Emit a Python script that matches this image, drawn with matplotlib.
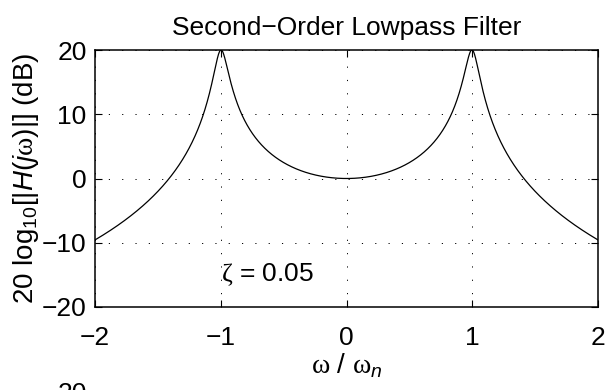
import numpy as np
import matplotlib
matplotlib.use("Agg")
import matplotlib.pyplot as plt

# Filter parameters and axis setup
zeta = 0.05
omega_range = [-2.0, 2.0]
db_range = [-20.0, 20.0]
xticks = [-2, -1, 0, 1, 2]
yticks = [-20, -10, 0, 10, 20]
next_panel_top_tick = "20"

plt.rcParams["font.family"] = ["Liberation Sans", "DejaVu Sans"]
plt.rcParams["mathtext.fontset"] = "custom"
plt.rcParams["mathtext.rm"] = "Liberation Sans"
plt.rcParams["mathtext.it"] = "Liberation Sans:italic"
plt.rcParams["mathtext.sf"] = "Liberation Serif"
plt.rcParams["axes.unicode_minus"] = True

FS = 19

# Frequency response of the second-order lowpass section
w = np.linspace(omega_range[0], omega_range[1], 4001)
H = 1.0 / (1.0 - w**2 + 2j * zeta * w)
mag_db = 20 * np.log10(np.abs(H))

fig = plt.figure(figsize=(6.06, 3.90), dpi=100)
ax = fig.add_axes([95 / 606, (390 - 307) / 390, 503 / 606, 257 / 390])

ax.plot(w, mag_db, color="black", lw=0.9)
ax.set_xlim(*omega_range)
ax.set_ylim(*db_range)
ax.set_xticks(xticks)
ax.set_yticks(yticks)
ax.set_xticklabels([f"{t}".replace("-", "\u2212") for t in xticks])
ax.set_yticklabels([f"{t}".replace("-", "\u2212") for t in yticks])

ax.grid(True, color="black", lw=0.7, linestyle=(0, (1.2, 12.5)))
ax.tick_params(direction="in", length=5, width=0.8, top=True, right=True,
               labelsize=FS, colors="black")
ax.tick_params(axis="x", pad=14)
ax.tick_params(axis="y", pad=6)
for s in ax.spines.values():
    s.set_linewidth(1.1)
    s.set_color("black")

ax.set_title("Second\u2212Order Lowpass Filter", fontsize=FS, pad=11)
ax.set_xlabel(r"$\mathsf{\omega}\ /\ \mathsf{\omega}_{n}$", fontsize=FS + 1, labelpad=1)
ax.set_ylabel(r"20 log$_{10}$[|$H$($j\mathsf{\omega}$)|] (dB)", fontsize=FS + 1, labelpad=1)

ax.text(-1.0, -15.0, r"$\mathsf{\zeta}$ = 0.05", fontsize=FS, ha="left", va="center")

# Top tick label of the panel that follows below
fig.text(87 / 606, (390 - 394) / 390, next_panel_top_tick, fontsize=FS,
         ha="right", va="center")

fig.savefig("out.png", dpi=100)
